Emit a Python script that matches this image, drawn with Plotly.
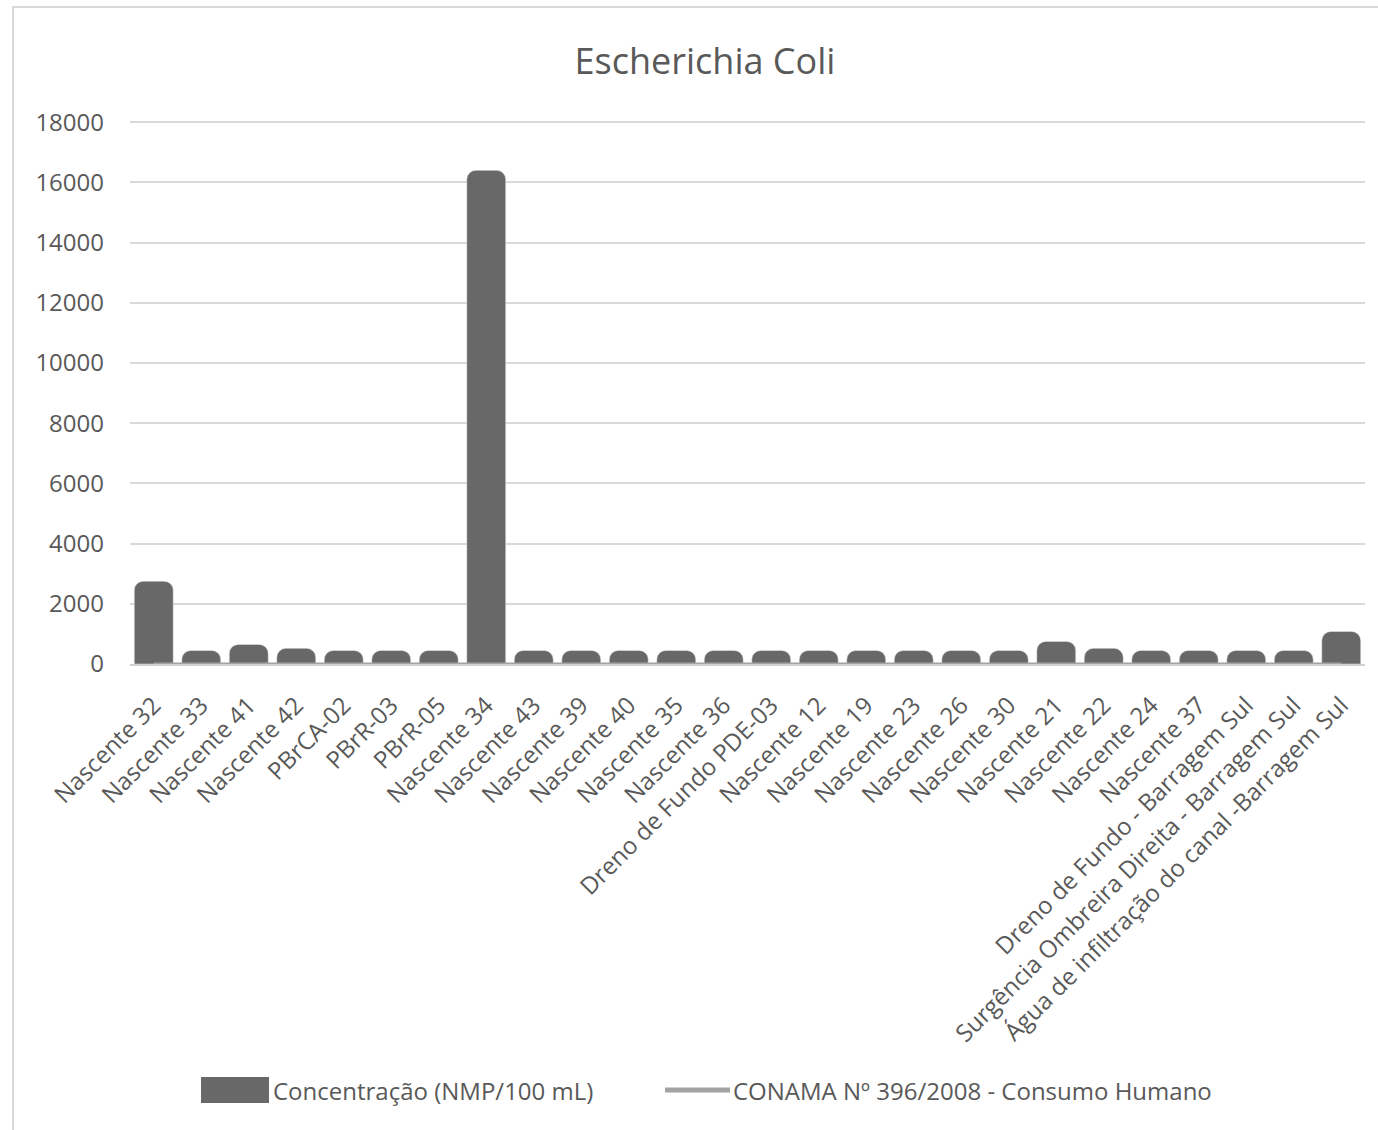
import plotly.graph_objects as go

# Sampling points (x-axis categories)
pontos = [
    "Nascente 32", "Nascente 33", "Nascente 41", "Nascente 42", "PBrCA-02",
    "PBrR-03", "PBrR-05", "Nascente 34", "Nascente 43", "Nascente 39",
    "Nascente 40", "Nascente 35", "Nascente 36", "Dreno de Fundo PDE-03",
    "Nascente 12", "Nascente 19", "Nascente 23", "Nascente 26", "Nascente 30",
    "Nascente 21", "Nascente 22", "Nascente 24", "Nascente 37",
    "Dreno de Fundo - Barragem Sul",
    "Surgência Ombreira Direita - Barragem Sul",
    "Água de infiltração do canal -Barragem Sul",
]

# E. coli concentration (NMP/100 mL)
concentracao = [
    2750, 450, 650, 520, 450,
    450, 450, 16400, 450, 450,
    450, 450, 450, 450,
    450, 450, 450, 450, 450,
    750, 520, 450, 450,
    450,
    450,
    1080,
]

# CONAMA 396/2008 limit for human consumption (absent in 100 mL)
conama = [0] * len(pontos)

y_ticks = [0, 2000, 4000, 6000, 8000, 10000, 12000, 14000, 16000, 18000]

FONT = "Open Sans"
TXT = "#595959"
BAR = "#686868"
LINE = "#a3a3a3"

W, H = 1378, 1130
L, R, T, B = 130, 13, 121, 466
PW, PH = W - L - R, H - T - B


def px(x):
    return (x - L) / PW


def py(y):
    return (H - B - y) / PH


fig = go.Figure()
fig.add_trace(go.Bar(
    x=pontos, y=concentracao, name="Concentração (NMP/100 mL)",
    marker=dict(color=BAR, cornerradius=9), showlegend=False,
))
fig.add_trace(go.Scatter(
    x=pontos, y=conama, mode="lines",
    name="CONAMA Nº 396/2008 - Consumo Humano",
    line=dict(color=LINE, width=3), showlegend=False,
))

shapes = [
    # chart area frame (top and left edges)
    dict(type="line", xref="paper", yref="paper",
         x0=px(12), x1=px(1378), y0=py(7), y1=py(7),
         line=dict(color="#d9d9d9", width=2), layer="below"),
    dict(type="line", xref="paper", yref="paper",
         x0=px(13), x1=px(13), y0=py(7), y1=py(1130),
         line=dict(color="#d9d9d9", width=2), layer="below"),
    # legend swatches
    dict(type="rect", xref="paper", yref="paper",
         x0=px(201), x1=px(269), y0=py(1103), y1=py(1077),
         line=dict(width=0), fillcolor=BAR),
    dict(type="line", xref="paper", yref="paper",
         x0=px(665), x1=px(730), y0=py(1090), y1=py(1090),
         line=dict(color=LINE, width=5)),
]

annotations = [
    dict(xref="paper", yref="paper", x=px(271), y=py(1090),
         xanchor="left", yanchor="middle", showarrow=False,
         text="Concentração (NMP/100 mL)",
         font=dict(family=FONT, size=24, color=TXT)),
    dict(xref="paper", yref="paper", x=px(731), y=py(1090),
         xanchor="left", yanchor="middle", showarrow=False,
         text="CONAMA Nº 396/2008 - Consumo Humano",
         font=dict(family=FONT, size=24, color=TXT)),
]

fig.update_layout(
    width=W, height=H,
    margin=dict(l=L, r=R, t=T, b=B),
    paper_bgcolor="white", plot_bgcolor="white",
    title=dict(text="Escherichia Coli", x=705 / W, xref="container",
               xanchor="center", y=1 - 61 / H, yanchor="middle",
               font=dict(family=FONT, size=36, color=TXT)),
    bargap=0.18,
    shapes=shapes,
    annotations=annotations,
    font=dict(family=FONT, color=TXT),
)
fig.update_xaxes(
    tickangle=-45, tickfont=dict(family=FONT, size=24, color=TXT),
    showgrid=False, showline=True, linecolor="#d0d0d0", linewidth=1.5,
    ticks="", ticklabelstandoff=16,
)
fig.update_yaxes(
    range=[0, 18040], tickvals=y_ticks, ticktext=[str(v) for v in y_ticks],
    tickfont=dict(family=FONT, size=24, color=TXT),
    showgrid=True, gridcolor="#d9d9d9", gridwidth=1.5,
    zeroline=False, showline=False, ticks="", ticklabelstandoff=25,
)

fig.write_html("out.html")
